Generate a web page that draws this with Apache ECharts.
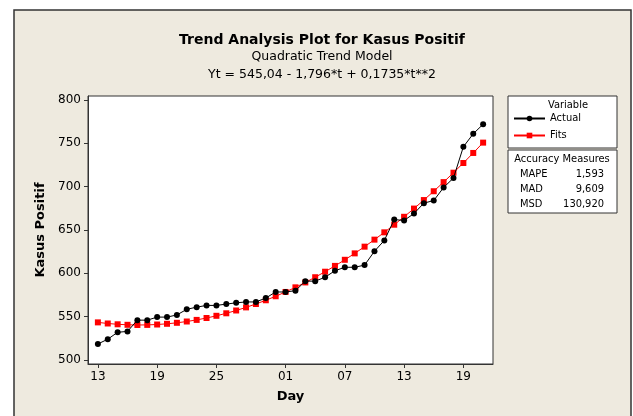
<!DOCTYPE html>
<html>
<head>
<meta charset="utf-8">
<script src="https://cdn.jsdelivr.net/npm/echarts@6/dist/echarts.min.js"></script>
<style>
  html, body { margin: 0; padding: 0; background: #fff; }
  #main { width: 633px; height: 416px; }
</style>
</head>
<body>
<div id="main"></div>
<script>
// hari (tanggal) untuk t = 1..40
const days = ['13','14','15','16','17','18','19','20','21','22','23','24','25','26','27','28','29','30','31',
  '01','02','03','04','05','06','07','08','09','10','11','12','13','14','15','16','17','18','19','20','21'];
// posisi tick sumbu x (nilai t)
const dayTicks = [1, 7, 13, 20, 26, 32, 38];
const yTicks = [500, 550, 600, 650, 700, 750, 800];

// data aktual kasus positif
const actual = [518.5, 524, 532, 533, 546, 546, 549.5, 549.5, 552, 558.5,
  561, 563, 563, 564.5, 566, 567, 567, 571.5, 578.5, 578.5,
  580, 591, 591, 595.5, 603, 607, 607, 609.5, 625.5, 638,
  662, 661, 669, 681, 684, 699, 710, 746, 761, 772];
// nilai fits model kuadratik
const fits = [543.42, 542.14, 541.21, 540.63, 540.40, 540.51, 540.97, 541.78, 542.93, 544.43,
  546.28, 548.47, 551.01, 553.90, 557.14, 560.72, 564.65, 568.93, 573.55, 578.52,
  583.84, 589.50, 595.51, 601.87, 608.58, 615.63, 623.03, 630.78, 638.87, 647.31,
  656.10, 665.23, 674.71, 684.54, 694.72, 705.24, 716.11, 727.33, 738.89, 750.80];

const measureNames = ['MAPE', 'MAD', 'MSD'];
const measureValues = ['1,593', '9,609', '130,920'];

const FONT = 'DejaVu Sans';
const SMALL = 'DejaVu Sans Condensed';
let chart = echarts.init(document.getElementById('main'));

let measureText = [];
measureNames.forEach((n, i) => {
  measureText.push({
    type: 'text', x: 520, y: 174 + i * 15, z: 2,
    style: { text: n, font: '11px "' + SMALL + '"', fill: '#000', verticalAlign: 'middle' }
  });
  measureText.push({
    type: 'text', x: 604, y: 174 + i * 15, z: 2,
    style: { text: measureValues[i], font: '11px "' + SMALL + '"', fill: '#000', align: 'right', verticalAlign: 'middle' }
  });
});

let option = {
  backgroundColor: '#fff',
  animation: false,
  textStyle: { fontFamily: FONT },
  graphic: [
    {
      type: 'rect', z: -10, silent: true,
      shape: { x: 14, y: 10, width: 617, height: 420 },
      style: { fill: '#EEEADF', stroke: '#333', lineWidth: 1.5 }
    },
    {
      type: 'text', x: 322, y: 40,
      style: { text: 'Trend Analysis Plot for Kasus Positif', font: 'bold 14px "' + FONT + '"',
        fill: '#000', align: 'center', verticalAlign: 'middle' }
    },
    {
      type: 'text', x: 322, y: 57,
      style: { text: 'Quadratic Trend Model', font: '12.5px "' + FONT + '"',
        fill: '#000', align: 'center', verticalAlign: 'middle' }
    },
    {
      type: 'text', x: 322, y: 75,
      style: { text: 'Yt = 545,04 - 1,796*t + 0,1735*t**2', font: '12.5px "' + FONT + '"',
        fill: '#000', align: 'center', verticalAlign: 'middle' }
    },
    // kotak legend
    {
      type: 'rect', shape: { x: 508, y: 96, width: 109, height: 52 },
      style: { fill: '#fff', stroke: '#333', lineWidth: 1 }, z: 1
    },
    {
      type: 'text', x: 568, y: 105, z: 2,
      style: { text: 'Variable', font: '11px "' + SMALL + '"', fill: '#000', align: 'center', verticalAlign: 'middle' }
    },
    {
      type: 'rect', shape: { x: 508, y: 150, width: 109, height: 63 },
      style: { fill: '#fff', stroke: '#333', lineWidth: 1 }, z: 1
    },
    {
      type: 'text', x: 562, y: 159, z: 2,
      style: { text: 'Accuracy Measures', font: '11px "' + SMALL + '"', fill: '#000', align: 'center', verticalAlign: 'middle' }
    }
  ].concat(measureText),
  legend: {
    orient: 'vertical',
    left: 508, top: 108,
    itemWidth: 31, itemHeight: 7, itemGap: 6,
    textStyle: { fontSize: 11, color: '#000', fontFamily: SMALL },
    data: ['Actual', 'Fits'],
    z: 5
  },
  grid: {
    left: 88, top: 96, width: 405, height: 268,
    show: true, backgroundColor: '#fff', borderColor: '#333', borderWidth: 1
  },
  xAxis: {
    type: 'value', min: 0, max: 41,
    name: 'Day', nameLocation: 'middle', nameGap: 26,
    nameTextStyle: { fontWeight: 'bold', fontSize: 13, color: '#000' },
    axisLine: { show: true, lineStyle: { color: '#333' } },
    axisTick: { show: true, length: 4, customValues: dayTicks, lineStyle: { color: '#333' } },
    axisLabel: { customValues: dayTicks, formatter: v => days[v - 1], color: '#000', fontSize: 12, margin: 7 },
    splitLine: { show: false }
  },
  yAxis: {
    type: 'value', min: 495.4, max: 804.6,
    name: 'Kasus Positif', nameLocation: 'middle', nameGap: 38,
    nameTextStyle: { fontWeight: 'bold', fontSize: 13, color: '#000' },
    axisLine: { show: true, lineStyle: { color: '#333' } },
    axisTick: { show: true, length: 4, customValues: yTicks, lineStyle: { color: '#333' } },
    axisLabel: { customValues: yTicks, color: '#000', fontSize: 12, margin: 7 },
    splitLine: { show: false }
  },
  series: [
    {
      name: 'Actual', type: 'line',
      data: actual.map((v, i) => [i + 1, v]),
      symbol: 'circle', symbolSize: 6,
      lineStyle: { color: '#000', width: 1 },
      itemStyle: { color: '#000' },
      z: 3
    },
    {
      name: 'Fits', type: 'line',
      data: fits.map((v, i) => [i + 1, v]),
      symbol: 'rect', symbolSize: 6,
      lineStyle: { color: '#ff0000', width: 1 },
      itemStyle: { color: '#ff0000' },
      z: 2
    }
  ]
};
chart.setOption(option);
</script>
</body>
</html>
